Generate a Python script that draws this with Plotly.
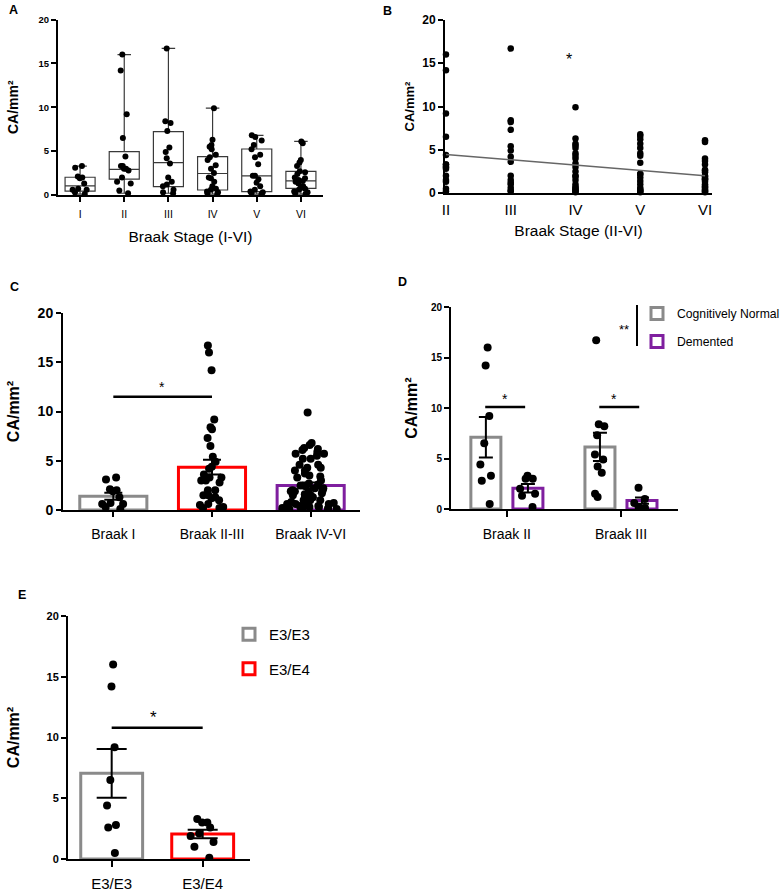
import plotly.graph_objects as go

W, H = 784, 894
FONT = "Arial, 'Liberation Sans', sans-serif"

# ---------------- data ----------------
stages_a = ["I", "II", "III", "IV", "V", "VI"]
pts_I = [3.3, 3.1, 2.1, 2.0, 1.9, 1.3, 0.7, 0.6, 0.6, 0.3, 0.1]
pts_II = [16.0, 14.2, 9.2, 6.5, 4.4, 3.3, 3.3, 3.0, 3.0, 2.8, 2.0, 1.5, 1.3, 0.5, 0.2]
pts_III = [16.7, 8.4, 8.2, 7.3, 5.4, 4.9, 4.2, 3.6, 2.0, 1.5, 1.2, 1.0, 0.6, 0.3, 0.2]
pts_IV = [9.9, 6.3, 5.7, 5.5, 5.2, 4.6, 4.3, 4.0, 3.4, 3.0, 2.5, 2.0, 1.9, 1.5, 1.0,
          0.7, 0.6, 0.4, 0.3, 0.2, 0.1]
pts_V = [6.8, 6.6, 6.2, 5.7, 5.2, 4.6, 4.3, 3.5, 2.2, 2.2, 1.8, 1.4, 1.0, 0.6, 0.4,
         0.3, 0.2, 0.1]
pts_VI = [6.1, 5.9, 4.0, 3.7, 3.3, 2.7, 2.6, 2.4, 2.0, 1.9, 1.7, 1.6, 1.5, 1.3, 1.0,
          0.8, 0.7, 0.6, 0.4, 0.3, 0.2, 0.1]

box_lower = [0.1, 0.2, 0.2, 0.1, 0.1, 0.1]
box_q1 = [0.45, 1.8, 0.95, 0.57, 0.38, 0.76]
box_median = [1.05, 2.93, 3.68, 2.45, 2.18, 1.6]
box_q3 = [2.02, 4.94, 7.22, 4.37, 5.24, 2.7]
box_upper = [3.3, 16.0, 16.7, 9.9, 6.8, 6.1]

stages_b = ["II", "III", "IV", "V", "VI"]
fit_x = ["II", "VI"]
fit_y = [4.45, 2.0]

groups_c = ["Braak I", "Braak II-III", "Braak IV-VI"]
mean_c = [1.4, 4.35, 2.5]
sem_c = [0.35, 0.75, 0.3]

groups_d = ["Braak II", "Braak III"]
cn_II = [16.0, 14.2, 9.2, 6.5, 4.4, 3.3, 2.8, 0.5]
cn_III = [16.7, 8.4, 8.2, 7.3, 5.4, 4.9, 4.2, 3.6, 1.5, 1.2]
dem_II = [3.3, 3.0, 3.0, 2.0, 1.5, 1.3, 0.2]
dem_III = [2.1, 1.0, 0.6, 0.2, 0.1]
mean_cn = [7.1, 6.15]
sem_cn = [2.0, 1.4]
mean_dem = [2.05, 0.83]
sem_dem = [0.42, 0.3]

geno = ["E3/E3", "E3/E4"]
pts_e33 = [16.0, 14.2, 9.2, 6.5, 4.4, 2.8, 2.6, 0.5]
pts_e34 = [3.3, 3.0, 3.0, 2.6, 2.1, 1.9, 1.4, 1.0, 0.1]
mean_e = [7.05, 2.05]
sem_e = [2.0, 0.35]

GRAY = "#8a8a8a"
RED = "#ff0000"
PURPLE = "#7f1f9f"

pts_a = [pts_I, pts_II, pts_III, pts_IV, pts_V, pts_VI]
pts_b = [pts_II, pts_III, pts_IV, pts_V, pts_VI]

YTITLE = "CA/mm²"

# ---------------- figure ----------------
fig = go.Figure()

# Panel A: box plots
fig.add_trace(go.Box(
    x=stages_a, q1=box_q1, median=box_median, q3=box_q3,
    lowerfence=box_lower, upperfence=box_upper, boxpoints=False,
    width=0.68, whiskerwidth=0.45, fillcolor="white",
    line=dict(color="#3a3a3a", width=1.2), xaxis="x", yaxis="y", showlegend=False))
for st, vals in zip(stages_a, pts_a):
    fig.add_trace(go.Box(
        x=[st] * len(vals), y=vals, boxpoints="all", jitter=0.6, pointpos=0,
        width=0.68, fillcolor="rgba(0,0,0,0)", line=dict(width=0, color="rgba(0,0,0,0)"),
        marker=dict(color="black", size=6), xaxis="x", yaxis="y", showlegend=False))

# Panel B: strip + regression line
for st, vals in zip(stages_b, pts_b):
    fig.add_trace(go.Scatter(
        x=[st] * len(vals), y=vals, mode="markers", cliponaxis=False,
        marker=dict(color="black", size=6.5), xaxis="x2", yaxis="y2", showlegend=False))
fig.add_trace(go.Scatter(x=fit_x, y=fit_y, mode="lines", line=dict(color="#666666", width=1.5),
                         xaxis="x2", yaxis="y2", showlegend=False))

# Panel C: bars + points
fig.add_trace(go.Bar(
    x=groups_c, y=mean_c, width=0.68,
    marker=dict(color="white", line=dict(color=[GRAY, RED, PURPLE], width=3)),
    error_y=dict(type="data", array=sem_c, color="black", thickness=2, width=9),
    xaxis="x3", yaxis="y3", showlegend=False))
pts_c = [pts_I, pts_II + pts_III, pts_IV + pts_V + pts_VI]
jit_c = [0.4, 0.45, 1.0]
for g, vals, j in zip(groups_c, pts_c, jit_c):
    fig.add_trace(go.Box(
        x=[g] * len(vals), y=vals, boxpoints="all", jitter=j, pointpos=0,
        width=0.68, fillcolor="rgba(0,0,0,0)", line=dict(width=0, color="rgba(0,0,0,0)"),
        marker=dict(color="black", size=8), xaxis="x3", yaxis="y3", showlegend=False))

# Panel D: grouped bars + points
fig.add_trace(go.Bar(
    x=groups_d, y=mean_cn, name="Cognitively Normal", offsetgroup="cn", legendgroup="cn",
    marker=dict(color="white", line=dict(color=GRAY, width=3)),
    error_y=dict(type="data", array=sem_cn, color="black", thickness=2, width=7),
    xaxis="x4", yaxis="y4", legend="legend"))
fig.add_trace(go.Bar(
    x=groups_d, y=mean_dem, name="Demented", offsetgroup="dem", legendgroup="dem",
    marker=dict(color="white", line=dict(color=PURPLE, width=3)),
    error_y=dict(type="data", array=sem_dem, color="black", thickness=2, width=7),
    xaxis="x4", yaxis="y4", legend="legend"))
fig.add_trace(go.Box(
    x=[groups_d[0]] * len(cn_II) + [groups_d[1]] * len(cn_III), y=cn_II + cn_III,
    offsetgroup="cn", boxpoints="all", jitter=0.35, pointpos=0,
    fillcolor="rgba(0,0,0,0)", line=dict(width=0, color="rgba(0,0,0,0)"),
    marker=dict(color="black", size=8), xaxis="x4", yaxis="y4", showlegend=False))
fig.add_trace(go.Box(
    x=[groups_d[0]] * len(dem_II) + [groups_d[1]] * len(dem_III), y=dem_II + dem_III,
    offsetgroup="dem", boxpoints="all", jitter=0.5, pointpos=0,
    fillcolor="rgba(0,0,0,0)", line=dict(width=0, color="rgba(0,0,0,0)"),
    marker=dict(color="black", size=8), xaxis="x4", yaxis="y4", showlegend=False))

# Panel E
for g, m, s, c in zip(geno, mean_e, sem_e, [GRAY, RED]):
    fig.add_trace(go.Bar(
        x=[g], y=[m], name=g, width=0.68, legendgroup=g,
        marker=dict(color="white", line=dict(color=c, width=3)),
        error_y=dict(type="data", array=[s], color="black", thickness=2, width=15),
        xaxis="x5", yaxis="y5", legend="legend2"))
for g, vals, j in zip(geno, [pts_e33, pts_e34], [0.2, 0.55]):
    fig.add_trace(go.Box(
        x=[g] * len(vals), y=vals, boxpoints="all", jitter=j, pointpos=0,
        width=0.68, fillcolor="rgba(0,0,0,0)", line=dict(width=0, color="rgba(0,0,0,0)"),
        marker=dict(color="black", size=8), xaxis="x5", yaxis="y5", showlegend=False))

# significance bars
fig.add_trace(go.Scatter(x=[groups_c[0], groups_c[1]], y=[11.5, 11.5], mode="lines",
                         line=dict(color="black", width=2.5), xaxis="x3", yaxis="y3",
                         showlegend=False))
fig.add_trace(go.Scatter(x=geno, y=[10.8, 10.8], mode="lines",
                         line=dict(color="black", width=2.5), xaxis="x5", yaxis="y5",
                         showlegend=False))

# ---------------- layout ----------------
def dom_x(a, b):
    return [a / W, b / W]

def dom_y(top, bottom):
    return [1 - bottom / H, 1 - top / H]

axis_common = dict(showline=True, linecolor="black", linewidth=2, ticks="outside",
                   tickcolor="black", tickwidth=2, ticklen=5, showgrid=False,
                   zeroline=False, color="black", automargin=False)

def yax(dom, anchor, size, title_size, standoff):
    d = dict(axis_common)
    d.update(domain=dom, anchor=anchor, range=[0, 20], tickvals=[0, 5, 10, 15, 20],
             tickfont=dict(family=FONT, size=size, color="black", weight="bold"),
             title=dict(text=YTITLE, standoff=standoff,
                        font=dict(family=FONT, size=title_size, color="black", weight="bold")))
    return d

def xax(dom, anchor, rng, size, ticks="outside", standoff=0, ticklen=5, title=None,
        title_standoff=0):
    d = dict(axis_common)
    d.update(domain=dom, anchor=anchor, range=rng, type="category", ticks=ticks,
             ticklen=ticklen, ticklabelstandoff=standoff,
             tickfont=dict(family=FONT, size=size, color="black"))
    if title:
        d["title"] = dict(text=title, standoff=title_standoff,
                          font=dict(family=FONT, size=15.5, color="black"))
    return d

layout = dict(
    width=W, height=H, margin=dict(l=0, r=0, t=0, b=0, autoexpand=False),
    paper_bgcolor="white", plot_bgcolor="white",
    font=dict(family=FONT, color="black"),
    barmode="group", bargap=0.263, bargroupgap=0.286,
    boxmode="group", boxgap=0.263, boxgroupgap=0.0,
    showlegend=True,
    xaxis=xax(dom_x(58, 323), "y", [-0.5, 5.5], 10.5, standoff=3,
              title="Braak Stage (I-VI)", title_standoff=13),
    yaxis=yax(dom_y(19.5, 195), "x", 9.5, 14, 17),
    xaxis2=xax(dom_x(445, 712), "y2", [-0.015, 4.108], 15, ticks="", standoff=2,
               title="Braak Stage (II-VI)", title_standoff=8),
    yaxis2=yax(dom_y(20, 193), "x2", 12, 13, 5),
    xaxis3=xax(dom_x(63, 360), "y3", [-0.51, 2.5], 14, standoff=5),
    yaxis3=yax(dom_y(313, 510), "x3", 14, 16, 14),
    xaxis4=xax(dom_x(451, 678), "y4", [-0.49, 1.5], 14, standoff=5, ticklen=6),
    yaxis4=yax(dom_y(307, 509), "x4", 10, 16, 9),
    xaxis5=xax(dom_x(68, 250), "y5", [-0.48, 1.52], 15, standoff=4, ticklen=6),
    yaxis5=yax(dom_y(616, 859), "x5", 11, 16, 23),
    legend=dict(x=637 / W, y=1 - 299 / H, xanchor="left", yanchor="top",
                font=dict(family=FONT, size=12.2, color="black"),
                bgcolor="rgba(0,0,0,0)", tracegroupgap=9),
    legend2=dict(x=229 / W, y=1 - 618 / H, xanchor="left", yanchor="top",
                 font=dict(family=FONT, size=15, color="black"),
                 bgcolor="rgba(0,0,0,0)", tracegroupgap=12),
)
fig.update_layout(**layout)

# shapes: D significance lines and legend bracket
for i in range(len(groups_d)):
    fig.add_shape(type="line", xref="x4", yref="y4", x0=i - 0.19, x1=i + 0.16, y0=10.1, y1=10.1,
                  line=dict(color="black", width=2.5))
fig.add_shape(type="line", xref="paper", yref="paper", x0=637 / W, x1=637 / W,
              y0=1 - 346 / H, y1=1 - 305 / H, line=dict(color="black", width=2))

def ann(text, x, y, size, bold=False, xref="paper", yref="paper"):
    if xref == "paper":
        x = x / W
    if yref == "paper":
        y = 1 - y / H
    fig.add_annotation(text=text, x=x, y=y, xref=xref, yref=yref, showarrow=False,
                       xanchor="center", yanchor="middle",
                       font=dict(family=FONT, size=size, color="black",
                                 weight="bold" if bold else "normal"))

# panel letters
ann("A", 13, 10, 12.5, bold=True)
ann("B", 387, 11, 12.5, bold=True)
ann("C", 14, 287, 12.5, bold=True)
ann("D", 402, 282, 12.5, bold=True)
ann("E", 22, 595, 12.5, bold=True)

# significance stars
ann("*", 1.9, 15.4, 16, xref="x2", yref="y2")
ann("*", 0.49, 12.5, 14, xref="x3", yref="y3")
ann("*", -0.02, 10.9, 14, xref="x4", yref="y4")
ann("*", 0.94, 10.9, 14, xref="x4", yref="y4")
ann("*", 0.46, 11.65, 17, xref="x5", yref="y5")
ann("**", 624, 329, 13)

fig.write_html("out.html", config={"displayModeBar": False},
               post_script="document.body.style.margin='0px';document.body.style.overflow='hidden';")
